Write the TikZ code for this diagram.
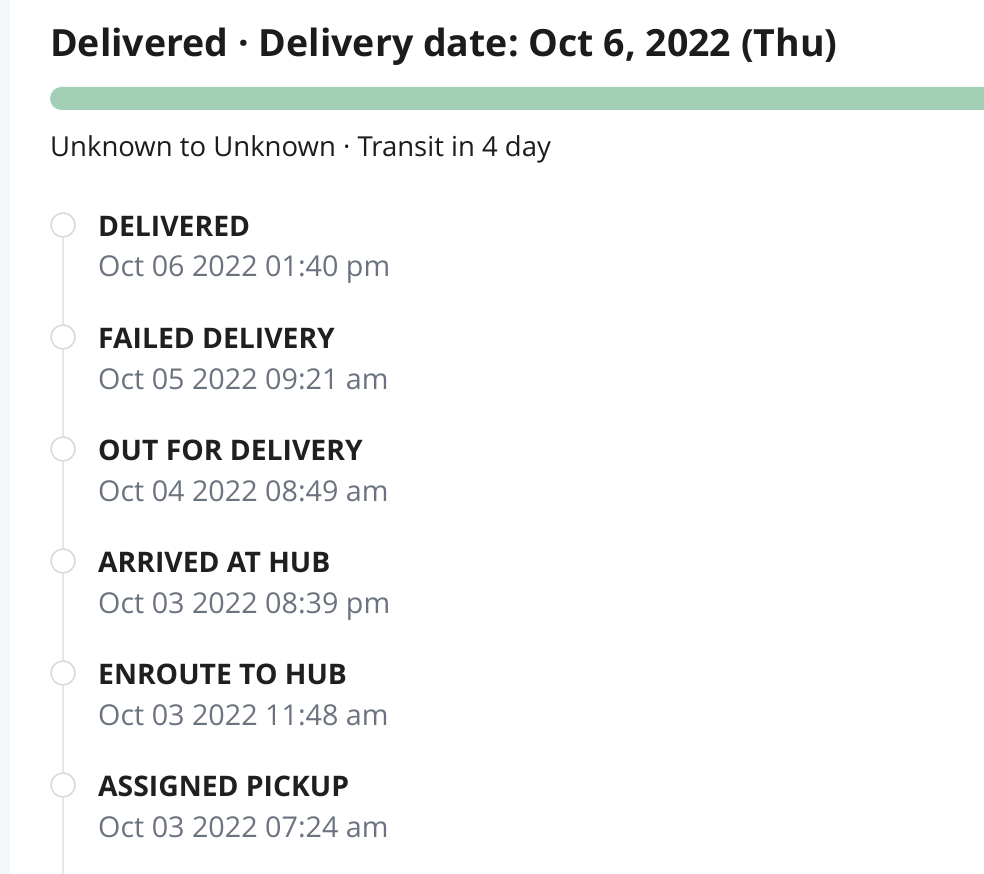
\documentclass[tikz,border=0pt]{standalone}
\usepackage{fontspec}
\setmainfont{Open Sans}

\definecolor{stripgray}{HTML}{F4F7FA}
\definecolor{titleblack}{HTML}{1C1C1E}
\definecolor{labelblack}{HTML}{1F1F1F}
\definecolor{dategray}{HTML}{6B7280}
\definecolor{bargreen}{HTML}{A2CFB6}
\definecolor{ringgray}{HTML}{DADADA}
\definecolor{railgray}{HTML}{E6E6E6}

\tikzset{
	headline/.style={anchor=base west, inner sep=0pt, font=\fontsize{37.5}{40}\selectfont\bfseries, text=titleblack},
	subline/.style={anchor=base west, inner sep=0pt, font=\fontsize{27.5}{30}\selectfont, text=titleblack},
	event/.style={anchor=base west, inner sep=0pt, font=\fontsize{28.3}{30}\selectfont\bfseries, text=labelblack},
	stamp/.style={anchor=base west, inner sep=0pt, font=\fontsize{28.7}{30}\selectfont, text=dategray},
	dot/.style={circle, draw=ringgray, line width=1.6pt, fill=white, minimum size=24pt, inner sep=0pt},
	rail/.style={draw=railgray, line width=1.6pt}
}

\begin{document}
\frenchspacing
\begin{tikzpicture}[x=1pt, y=-1pt]
	\useasboundingbox (0,0) rectangle (984,874);
	\clip (0,0) rectangle (984,874);
	\fill[white] (0,0) rectangle (984,874);
	\fill[stripgray] (0,0) rectangle (10,874);

	\node[headline] (title) at (50,57) {Delivered · Delivery date: Oct 6, 2022 (Thu)};
	\fill[bargreen, rounded corners=11.5pt] (50,87) rectangle (1010,110);
	\node[subline] (route) at (50,156.5) {Unknown to Unknown · Transit in 4 day};

	% timeline
	\node[dot] (d1) at (63,225) {};
	\node[dot] (d2) at (63,337) {};
	\node[dot] (d3) at (63,449) {};
	\node[dot] (d4) at (63,561) {};
	\node[dot] (d5) at (63,673) {};
	\node[dot] (d6) at (63,785) {};
	\coordinate (tail) at (63,880);
	\draw[rail] (d1) -- (d2);
	\draw[rail] (d2) -- (d3);
	\draw[rail] (d3) -- (d4);
	\draw[rail] (d4) -- (d5);
	\draw[rail] (d5) -- (d6);
	\draw[rail] (d6) -- (tail);

	\node[event] (e1) at (98,236.5) {DELIVERED};
	\node[stamp] (s1) at (98,277) {Oct 06 2022 01:40 pm};
	\node[event] (e2) at (98,348.5) {FAILED DELIVERY};
	\node[stamp] (s2) at (98,389) {Oct 05 2022 09:21 am};
	\node[event] (e3) at (98,460.5) {OUT FOR DELIVERY};
	\node[stamp] (s3) at (98,501) {Oct 04 2022 08:49 am};
	\node[event] (e4) at (98,572.5) {ARRIVED AT HUB};
	\node[stamp] (s4) at (98,613) {Oct 03 2022 08:39 pm};
	\node[event] (e5) at (98,684.5) {ENROUTE TO HUB};
	\node[stamp] (s5) at (98,725) {Oct 03 2022 11:48 am};
	\node[event] (e6) at (98,796.5) {ASSIGNED PICKUP};
	\node[stamp] (s6) at (98,837) {Oct 03 2022 07:24 am};
\end{tikzpicture}
\end{document}
